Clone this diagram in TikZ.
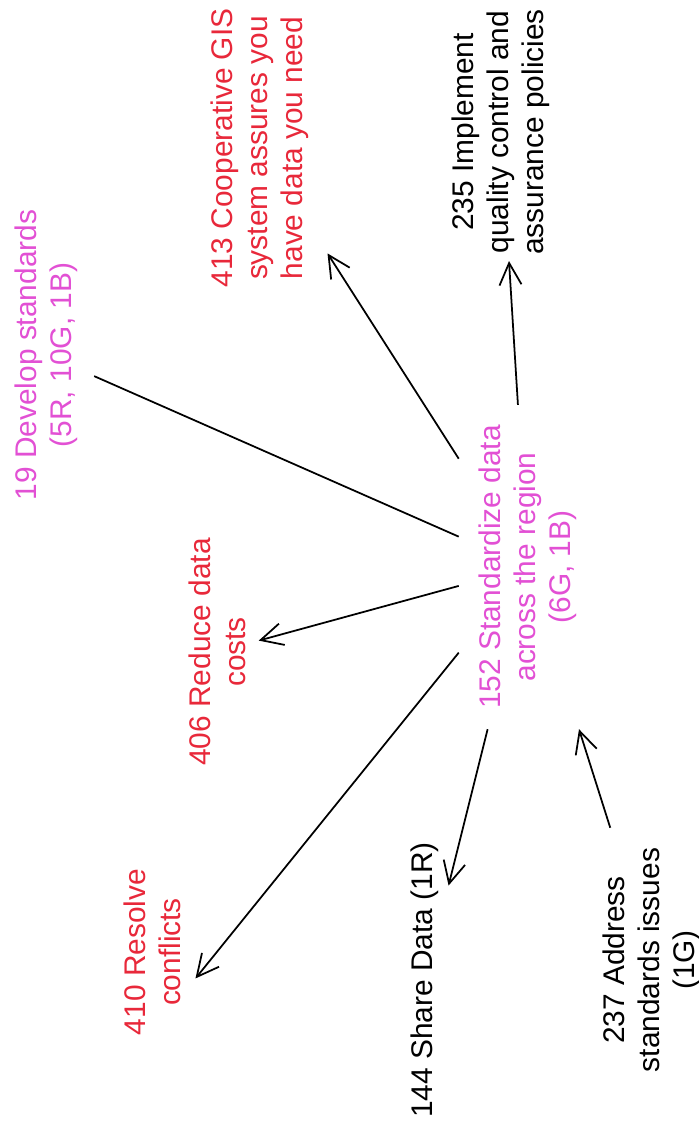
\documentclass[tikz,border=0pt]{standalone}
\usepackage{fontspec}
\setmainfont{Liberation Sans}
\usetikzlibrary{arrows.meta,calc}
\definecolor{goalpink}{RGB}{226,80,212}
\definecolor{goalred}{RGB}{232,40,58}

\begin{document}
\begin{tikzpicture}[x=0.02cm,y=-0.02cm,line width=1pt,
goal/.style={rotate=90,align=center,inner sep=8pt,font=\fontsize{17pt}{20pt}\selectfont},
arr/.style={-{Straight Barb[length=4.4mm,width=4.4mm]}}]

\useasboundingbox (0,0) rectangle (699,1143);

\draw (528,567) node[goal,text=goalpink,inner sep=11pt] (std) {152 Standardize data\\ across the region\\ (6G, 1B)};

\draw (46,355) node[goal,text=goalpink,inner sep=9pt] (dev) {19 Develop standards\\ (5R, 10G, 1B)};
\draw (260,148) node[goal,text=goalred,inner sep=10pt] (coop) {413 Cooperative GIS\\ system assures you\\ have data you need};
\draw (501,132) node[goal,inner sep=3pt] (impl) {235 Implement\\ quality control and\\ assurance policies};
\draw (217,652) node[goal,text=goalred,inner sep=7pt] (cost) {406 Reduce data\\ costs};
\draw (152,952) node[goal,text=goalred] (conf) {410 Resolve\\ conflicts};
\draw (425,980) node[goal,inner sep=5pt] (share) {144 Share Data (1R)};
\draw (652,960) node[goal,inner sep=11pt] (addr) {237 Address\\ standards issues\\ (1G)};

%\draw (dev) -- (coop);

\draw (dev) -- (std);
\draw[arr] (std) -- (coop);
\draw[arr] (std) -- (impl);
\draw[arr] (std) -- (cost);
\draw[arr] (std) -- ($(conf.south)!0.27!(conf.south west)$);
\draw[arr] (std) -- (share);
\draw[arr] (addr) -- (std);
\end{tikzpicture}
\end{document}
